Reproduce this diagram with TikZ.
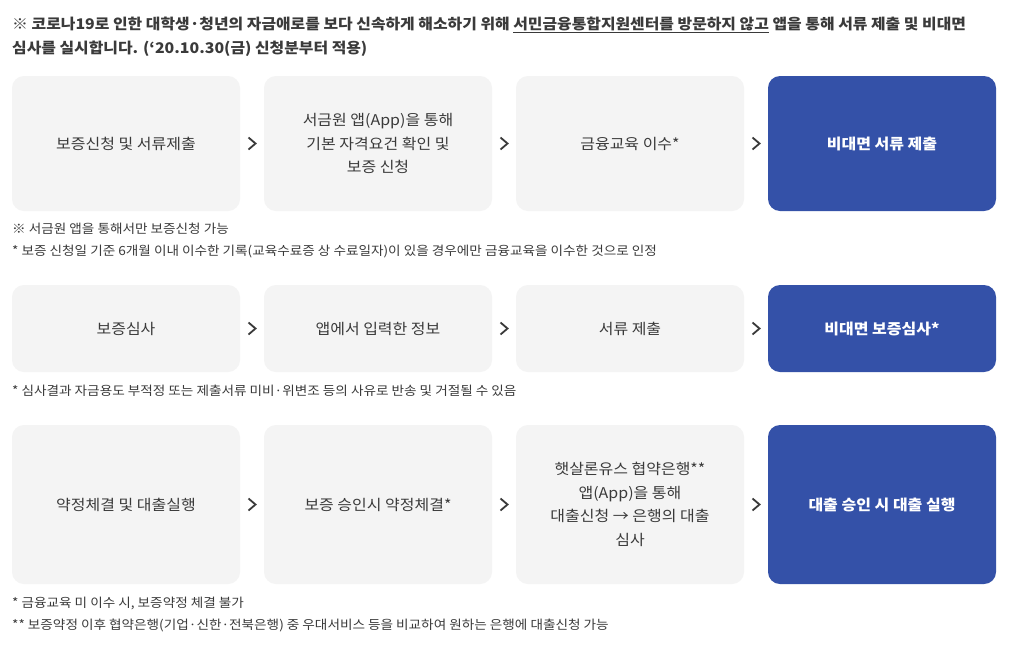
\documentclass[tikz,border=0pt]{standalone}
\usepackage{fontspec}
\setmainfont{Noto Sans CJK KR}[FakeStretch=1.08]
\usetikzlibrary{positioning,calc}
\definecolor{boxgray}{HTML}{F4F4F4}
\definecolor{boxblue}{HTML}{3451A8}
\definecolor{txtgray}{HTML}{3A3A3A}
\begin{document}
\begin{tikzpicture}[x=1pt,y=-1pt,
    stepbox/.style = {fill=boxgray,rounded corners=12pt,minimum width=228pt,inner sep=0pt,outer sep=0pt,
                      align=center,text=txtgray,font=\fontsize{14.8}{23.5}\selectfont},
    goalbox/.style = {stepbox,fill=boxblue,text=white,font=\fontsize{14.8}{23.5}\selectfont\bfseries},
    note/.style = {anchor=base west,inner sep=0pt,text=txtgray,font=\fontsize{12.6}{15}\selectfont},
    chev/.style = {line width=1.8pt,draw=txtgray}]
    \useasboundingbox[fill=white] (0,0) rectangle (1011,646);

    % header
    \node[note,font=\fontsize{14.7}{24}\selectfont\bfseries] (head1) at (12,29.5)
        {※ 코로나19로 인한 대학생·청년의 자금애로를 보다 신속하게 해소하기 위해 \underline{서민금융통합지원센터를 방문하지 않고} 앱을 통해 서류 제출 및 비대면};
    \node[note,font=\fontsize{14.7}{24}\selectfont\bfseries] (head2) at (12,53.5)
        {심사를 실시합니다. (‘20.10.30(금) 신청분부터 적용)};

    % row 1
    \node[stepbox,minimum height=135pt] (a1) at (126,143.5) {보증신청 및 서류제출};
    \node[stepbox,minimum height=135pt,right=24pt of a1] (a2) {서금원 앱(App)을 통해\\기본 자격요건 확인 및\\보증 신청};
    \node[stepbox,minimum height=135pt,right=24pt of a2] (a3) {금융교육 이수*};
    \node[goalbox,minimum height=135pt,right=24pt of a3] (a4) {비대면 서류 제출};
    \node[note] (n1) at (12,233.5) {※ 서금원 앱을 통해서만 보증신청 가능};
    \node[note] (n2) at (12,255.5) {* 보증 신청일 기준 6개월 이내 이수한 기록(교육수료증 상 수료일자)이 있을 경우에만 금융교육을 이수한 것으로 인정};

    % row 2
    \node[stepbox,minimum height=87pt] (b1) at (126,328.5) {보증심사};
    \node[stepbox,minimum height=87pt,right=24pt of b1] (b2) {앱에서 입력한 정보};
    \node[stepbox,minimum height=87pt,right=24pt of b2] (b3) {서류 제출};
    \node[goalbox,minimum height=87pt,right=24pt of b3] (b4) {비대면 보증심사*};
    \node[note] (n3) at (12,395.5) {* 심사결과 자금용도 부적정 또는 제출서류 미비·위변조 등의 사유로 반송 및 거절될 수 있음};

    % row 3
    \node[stepbox,minimum height=159pt] (c1) at (126,504.5) {약정체결 및 대출실행};
    \node[stepbox,minimum height=159pt,right=24pt of c1] (c2) {보증 승인시 약정체결*};
    \node[stepbox,minimum height=159pt,right=24pt of c2] (c3) {햇살론유스 협약은행**\\앱(App)을 통해\\대출신청 → 은행의 대출\\심사};
    \node[goalbox,minimum height=159pt,right=24pt of c3] (c4) {대출 승인 시 대출 실행};
    \node[note] (n4) at (12,607.5) {* 금융교육 미 이수 시, 보증약정 체결 불가};
    \node[note] (n5) at (12,629.5) {** 보증약정 이후 협약은행(기업·신한·전북은행) 중 우대서비스 등을 비교하여 원하는 은행에 대출신청 가능};

    % chevrons between steps
    \foreach \r in {a,b,c}
        \foreach \i/\j in {1/2,2/3,3/4}
            \draw[chev] ($(\r\i.east)!0.5!(\r\j.west)$) ++(-3.5,-6) -- ++(7,6) -- ++(-7,6);
\end{tikzpicture}
\end{document}
